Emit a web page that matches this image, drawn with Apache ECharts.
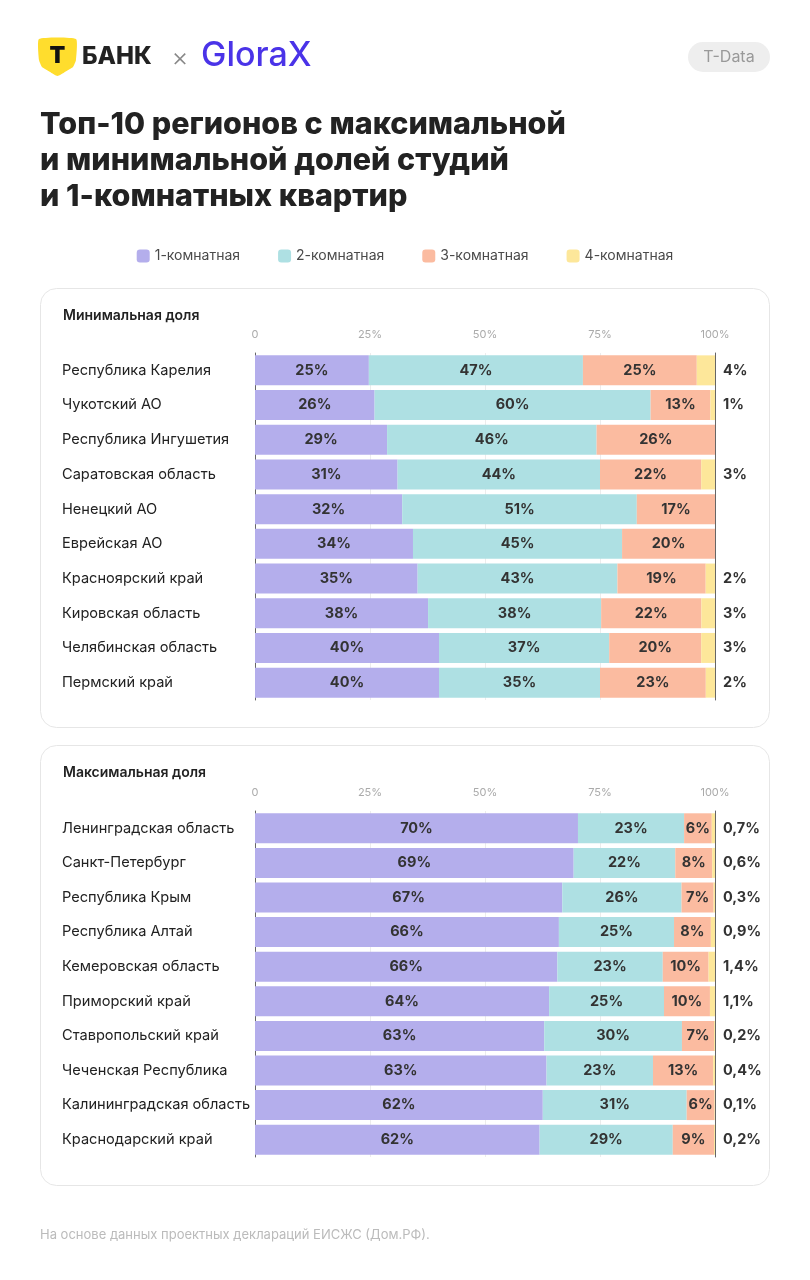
<!DOCTYPE html>
<html><head><meta charset="utf-8">
<script src="https://cdn.jsdelivr.net/npm/echarts@6/dist/echarts.min.js"></script>
<style>html,body{margin:0;padding:0;background:#fff}#c{width:810px;height:1280px}</style>
</head><body><div id="c"></div>
<script>
// ---- data ----
const seriesNames = ['1-комнатная', '2-комнатная', '3-комнатная', '4-комнатная'];
const axisTicks = [0, 25, 50, 75, 100];

const minRegions = ['Республика Карелия','Чукотский АО','Республика Ингушетия','Саратовская область','Ненецкий АО','Еврейская АО','Красноярский край','Кировская область','Челябинская область','Пермский край'];
const minRoom1 = [25, 26, 29, 31, 32, 34, 35, 38, 40, 40];
const minRoom2 = [47, 60, 46, 44, 51, 45, 43, 38, 37, 35];
const minRoom3 = [25, 13, 26, 22, 17, 20, 19, 22, 20, 23];
const minRoom4 = [4, 1, null, 3, null, null, 2, 3, 3, 2];

const maxRegions = ['Ленинградская область','Санкт-Петербург','Республика Крым','Республика Алтай','Кемеровская область','Приморский край','Ставропольский край','Чеченская Республика','Калининградская область','Краснодарский край'];
const maxRoom1 = [70, 69, 67, 66, 66, 64, 63, 63, 62, 62];
const maxRoom2 = [23, 22, 26, 25, 23, 25, 30, 23, 31, 29];
const maxRoom3 = [6, 8, 7, 8, 10, 10, 7, 13, 6, 9];
const maxRoom4 = [0.7, 0.6, 0.3, 0.9, 1.4, 1.1, 0.2, 0.4, 0.1, 0.2];

// ---- styles ----
const colors = ['#B4AEEC', '#AEE0E3', '#FBBBA0', '#FDE79A'];
const FONT = 'Inter, Roboto, "Noto Sans", sans-serif';
const fmtPct = v => (v == null ? '' : String(v).replace('.', ',') + '%');

function makeAxes(gi, regions, room4) {
  const xAxis = {
    gridIndex: gi, type: 'value', min: 0, max: 100, interval: 25, position: 'top',
    axisLine: {show: false}, axisTick: {show: false},
    splitLine: {show: true, lineStyle: {color: '#ececec', width: 1}},
    axisLabel: {color: '#aaaaaa', fontSize: 11, fontFamily: FONT, margin: 13,
      formatter: v => (v === 0 ? '0' : v + '%')}
  };
  const yLeft = {
    gridIndex: gi, type: 'category', inverse: true, data: regions,
    axisLine: {show: true, lineStyle: {color: '#666', width: 1}}, axisTick: {show: false},
    axisLabel: {color: '#222', fontSize: 14.6, fontFamily: FONT, align: 'left', margin: 193}
  };
  const yRight = {
    gridIndex: gi, type: 'category', inverse: true, position: 'right',
    data: room4.map(fmtPct),
    axisLine: {show: true, lineStyle: {color: '#666', width: 1}}, axisTick: {show: false},
    axisLabel: {color: '#333', fontSize: 14.5, fontWeight: 'bold', fontFamily: FONT, align: 'left', margin: 8}
  };
  return {xAxis, yLeft, yRight};
}

// 100%-stacked: each row's shares are scaled to the row total
function makeSeries(gi, arrs) {
  const totals = arrs[0].map((_, r) => arrs.reduce((s, a) => s + (a[r] || 0), 0));
  return arrs.map((arr, i) => ({
    name: seriesNames[i], type: 'bar', stack: 's' + gi,
    xAxisIndex: gi, yAxisIndex: gi * 2,
    data: arr.map((v, r) => ({value: v == null ? null : v / totals[r] * 100, raw: v})),
    barWidth: 30, clip: true,
    itemStyle: {color: colors[i]},
    label: {show: i < 3, position: 'inside', color: '#333', fontSize: 14.5, fontWeight: 'bold',
      fontFamily: FONT, formatter: p => (p.data.raw == null ? '' : p.data.raw + '%')},
    emphasis: {disabled: true}
  }));
}

const a0 = makeAxes(0, minRegions, minRoom4);
const a1 = makeAxes(1, maxRegions, maxRoom4);

const option = {
  animation: false,
  textStyle: {fontFamily: FONT},
  legend: {
    data: seriesNames, top: 244, left: 'center', icon: 'roundRect',
    itemWidth: 13, itemHeight: 13, itemGap: 38,
    textStyle: {color: '#4a4a4a', fontSize: 14, fontFamily: FONT}
  },
  grid: [
    {left: 255, right: 95, top: 353, height: 347},
    {left: 255, right: 95, top: 811, height: 346}
  ],
  xAxis: [a0.xAxis, a1.xAxis],
  yAxis: [a0.yLeft, a0.yRight, a1.yLeft, a1.yRight],
  series: [
    ...makeSeries(0, [minRoom1, minRoom2, minRoom3, minRoom4]),
    ...makeSeries(1, [maxRoom1, maxRoom2, maxRoom3, maxRoom4])
  ],
  graphic: [
    // cards
    {type: 'rect', z: -10, shape: {x: 40.5, y: 288.5, width: 729, height: 439, r: 16},
      style: {fill: '#fff', stroke: '#e6e6e6', lineWidth: 1}},
    {type: 'rect', z: -10, shape: {x: 40.5, y: 745.5, width: 729, height: 440, r: 16},
      style: {fill: '#fff', stroke: '#e6e6e6', lineWidth: 1}},
    {type: 'text', x: 63, y: 316, style: {text: 'Минимальная доля', fill: '#222', font: '600 14px ' + FONT, verticalAlign: 'middle'}},
    {type: 'text', x: 63, y: 773, style: {text: 'Максимальная доля', fill: '#222', font: '600 14px ' + FONT, verticalAlign: 'middle'}},
    // logo
    {type: 'polygon', x: 39, y: 39, shape: {points: [[0,0],[37,0],[37,21],[34,28],[26,33],[18.5,37],[11,33],[3,28],[0,21]], smooth: 0.15},
      style: {fill: '#FFDD2D'}},
    {type: 'text', x: 57.5, y: 56, style: {text: 'T', fill: '#111', font: '900 23px ' + FONT, align: 'center', verticalAlign: 'middle'}},
    {type: 'text', x: 82, y: 57, style: {text: 'БАНК', fill: '#222', font: '800 24px ' + FONT, verticalAlign: 'middle'}},
    {type: 'text', x: 180, y: 58, style: {text: '×', fill: '#888', font: '300 26px ' + FONT, align: 'center', verticalAlign: 'middle'}},
    {type: 'text', x: 201, y: 56, style: {text: 'GloraX', fill: '#4A33E8', font: '500 34px ' + FONT, verticalAlign: 'middle'}},
    // pill
    {type: 'rect', shape: {x: 688, y: 42, width: 82, height: 30, r: 15}, style: {fill: '#EEEEEE'}},
    {type: 'text', x: 729, y: 57, style: {text: 'T-Data', fill: '#999', font: '400 16px ' + FONT, align: 'center', verticalAlign: 'middle'}},
    // title
    {type: 'text', x: 40, y: 107, style: {text: 'Топ-10 регионов с максимальной\nи минимальной долей студий\nи 1-комнатных квартир',
      fill: '#222', font: '800 30.5px ' + FONT, lineHeight: 36}},
    // footer
    {type: 'text', x: 40, y: 1235, style: {text: 'На основе данных проектных деклараций ЕИСЖС (Дом.РФ).', fill: '#BBBBBB', font: '400 13px ' + FONT, verticalAlign: 'middle'}}
  ]
};

const chart = echarts.init(document.getElementById('c'), null, {renderer: 'canvas'});
chart.setOption(option);
</script></body></html>
